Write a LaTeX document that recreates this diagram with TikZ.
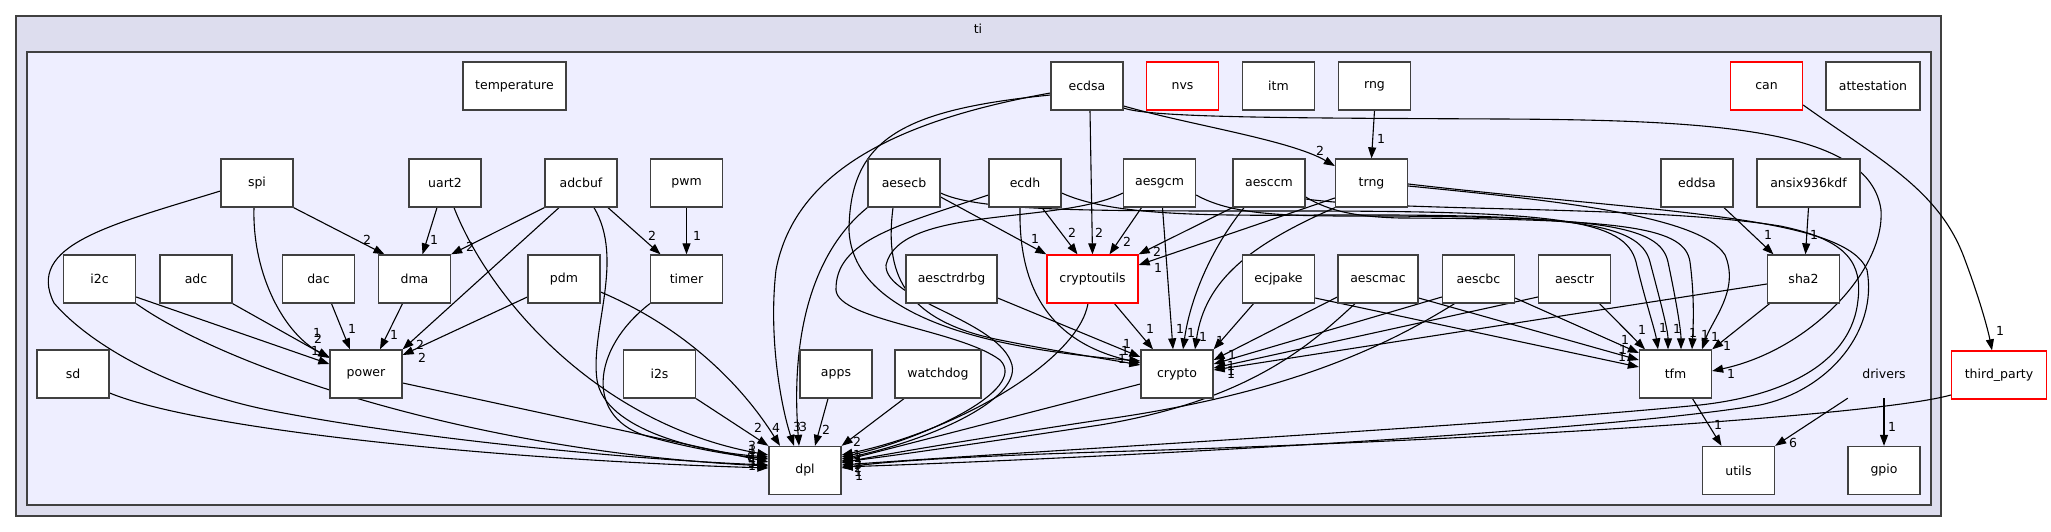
\documentclass[tikz,border=0pt]{standalone}
\usepackage{fontspec}
\newfontfamily\dvs{DejaVu Sans}
\usetikzlibrary{arrows.meta}
\pgfdeclarelayer{bg}
\pgfdeclarelayer{edges}
\pgfsetlayers{bg,edges,main}
\definecolor{outerfill}{HTML}{DDDDEE}
\definecolor{innerfill}{HTML}{EEEEFF}
\definecolor{bordergray}{HTML}{404040}
\tikzset{
  txt/.style={font={\dvs\fontsize{12.5pt}{15pt}\selectfont}},
  box/.style={txt, draw=bordergray, fill=white, line width=1.3pt, minimum width=72pt, minimum height=48pt, inner sep=0pt},
  redbox/.style={box, draw=red},
  e/.style={line width=1.1pt, -{Triangle[length=11pt,width=8pt]}},
  lbl/.style={txt, inner sep=0pt, fill=none},
}
\begin{document}
\begin{tikzpicture}[x=1pt,y=-1pt]
\useasboundingbox (0,0) rectangle (2051,532);
\begin{pgfonlayer}{bg}
\fill[white] (0,0) rectangle (2051,532);
\draw[bordergray, fill=outerfill, line width=1.6pt] (16,16) rectangle (1941,516);
\draw[bordergray, fill=innerfill, line width=1.4pt] (27,52) rectangle (1931,505);
\end{pgfonlayer}
\node[txt] (ti) at (978,29) {ti};
% row 1
\node[box, minimum width=103pt] (temperature) at (514.5,86) {temperature};
\node[box] (ecdsa) at (1087,86) {ecdsa};
\node[redbox] (nvs) at (1182.5,86) {nvs};
\node[box] (itm) at (1278.5,86) {itm};
\node[box] (rng) at (1374.5,86) {rng};
\node[redbox] (can) at (1766.5,86) {can};
\node[box, minimum width=94pt] (attestation) at (1873,86) {attestation};
% row 2
\node[box] (spi) at (257,183) {spi};
\node[box] (uart2) at (445,183) {uart2};
\node[box] (adcbuf) at (581,183) {adcbuf};
\node[box] (pwm) at (686.5,183) {pwm};
\node[box] (aesecb) at (904,183) {aesecb};
\node[box] (ecdh) at (1025,183) {ecdh};
\node[box] (aesgcm) at (1159.5,183) {aesgcm};
\node[box] (aesccm) at (1269,183) {aesccm};
\node[box] (trng) at (1371.5,183) {trng};
\node[box] (eddsa) at (1697,183) {eddsa};
\node[box, minimum width=103pt] (ansix) at (1808.5,183) {ansix936kdf};
% row 3
\node[box] (i2c) at (99.5,279) {i2c};
\node[box] (adc) at (196,279) {adc};
\node[box] (dac) at (318.5,279) {dac};
\node[box] (dma) at (414.5,279) {dma};
\node[box] (pdm) at (564,279) {pdm};
\node[box] (timer) at (686.5,279) {timer};
\node[box, minimum width=91pt] (aesctrdrbg) at (951.5,279) {aesctrdrbg};
\node[redbox, minimum width=91pt] (cryptoutils) at (1092.5,279) {cryptoutils};
\node[box] (ecjpake) at (1278.5,279) {ecjpake};
\node[box, minimum width=80pt] (aescmac) at (1378,279) {aescmac};
\node[box] (aescbc) at (1478.5,279) {aescbc};
\node[box] (aesctr) at (1574.5,279) {aesctr};
\node[box] (sha2) at (1803.5,279) {sha2};
% row 4
\node[box] (sd) at (73,374) {sd};
\node[box] (power) at (366,374) {power};
\node[box] (i2s) at (659.5,374) {i2s};
\node[box] (apps) at (836,374) {apps};
\node[box, minimum width=86pt] (watchdog) at (938,374) {watchdog};
\node[box] (crypto) at (1177,374) {crypto};
\node[box] (tfm) at (1675.5,374) {tfm};
\node[txt, minimum width=72pt, minimum height=48pt, inner sep=0pt] (drivers) at (1884,374) {drivers};
\node[redbox, minimum width=95pt] (thirdparty) at (1999,375) {third\_party};
% row 5
\node[box] (dpl) at (805,470.5) {dpl};
\node[box] (utils) at (1738.5,470.5) {utils};
\node[box] (gpio) at (1884,470.5) {gpio};

\begin{pgfonlayer}{edges}
% ---- left group
\draw[e] (spi.south east) -- ([xshift=-30]dma.north) node[lbl] at (367,240) {2};
\draw[e] ([xshift=-3]spi.south) .. controls (252,275) and (285,335) .. ([yshift=17]power.west) node[lbl] at (318,339) {2};
\draw[e] ([yshift=-8]spi.west) .. controls (110,225) and (25,245) .. (54,303) .. controls (90,345) and (170,390) .. (268,410) .. controls (420,440) and (640,460) .. ([yshift=5.5]dpl.west) node[lbl] at (752,460) {4};
\draw[e] ([xshift=-8]uart2.south) -- ([xshift=8]dma.north) node[lbl] at (434,240) {1};
\draw[e] ([xshift=9]uart2.south) .. controls (490,300) and (600,425) .. ([yshift=15.5]dpl.west) node[lbl] at (752,446) {3};
\draw[e] (adcbuf.south west) -- (dma.north east) node[lbl] at (470,247) {2};
\draw[e] ([xshift=-22]adcbuf.south) -- (power.north east) node[lbl] at (420,345) {2};
\draw[e] ([xshift=13]adcbuf.south) .. controls (625,260) and (590,330) .. (597,380) .. controls (605,430) and (700,452) .. ([yshift=13.5]dpl.west) node[lbl] at (752,450) {1};
\draw[e] ([xshift=27]adcbuf.south) -- ([xshift=-26]timer.north) node[lbl] at (652,236) {2};
\draw[e] (pwm.south) -- (timer.north) node[lbl] at (697,236) {1};
\draw[e] ([yshift=-18]i2c.east) -- ([yshift=10]power.west) node[lbl] at (315,351) {1};
\draw[e] (i2c.south east) .. controls (230,370) and (480,452) .. ([yshift=4.5]dpl.west) node[lbl] at (752,463) {5};
\draw[e] (adc.south east) -- ([yshift=16]power.west) node[lbl] at (317,333) {1};
\draw[e] ([xshift=13]dac.south) -- ([xshift=-16]power.north) node[lbl] at (352,329) {1};
\draw[e] ([xshift=-12]dma.south) -- ([xshift=14]power.north) node[lbl] at (394,335) {1};
\draw[e] ([yshift=-18]pdm.west) -- ([yshift=19]power.east) node[lbl] at (422,358) {2};
\draw[e] ([yshift=-13]pdm.east) .. controls (690,330) and (745,390) .. ([xshift=-25]dpl.north) node[lbl] at (776,428) {4};
\draw[e] (timer.south west) .. controls (590,350) and (585,420) .. (650,437) .. controls (690,448) and (730,455) .. ([yshift=11.5]dpl.west) node[lbl] at (752,454) {2};
\draw[e] ([yshift=-19]sd.east) .. controls (200,430) and (500,460) .. ([yshift=2.5]dpl.west) node[lbl] at (752,466) {1};
\draw[e] ([yshift=-9]power.east) -- ([yshift=8.5]dpl.west) node[lbl] at (751,457) {8};
\draw[e] (i2s.south east) -- (dpl.north west) node[lbl] at (758,428) {2};
\draw[e] ([xshift=-8]apps.south) -- ([xshift=10]dpl.north) node[lbl] at (826,430) {2};
\draw[e] ([xshift=-34]watchdog.south) -- (dpl.north east) node[lbl] at (857,442) {2};
% ---- crypto group
\draw[e] ([yshift=-7]ecdsa.west) .. controls (900,120) and (795,170) .. (776,270) .. controls (768,340) and (782,410) .. ([xshift=-11]dpl.north) node[lbl] at (797,427) {3};
\draw[e] (aesecb.south west) .. controls (815,250) and (790,330) .. ([xshift=-6]dpl.north) node[lbl] at (803,427) {3};
\draw[e] ([yshift=-9]ecdsa.west) .. controls (900,110) and (850,140) .. (849,230) .. controls (852,300) and (940,345) .. ([yshift=13]crypto.west) node[lbl] at (1125,351) {1};
\draw[e] ([xshift=3]ecdsa.south) -- (cryptoutils.north) node[lbl] at (1099,233) {2};
\draw[e] ([yshift=-20]ecdsa.east) .. controls (1190,125) and (1290,140) .. ([yshift=17]trng.west) node[lbl] at (1320,151) {2};
\draw[e] ([yshift=-22]ecdsa.east) .. controls (1150,118) and (1300,118) .. (1500,119) .. controls (1720,120) and (1870,130) .. (1881,210) .. controls (1885,270) and (1810,350) .. ([yshift=3]tfm.east) node[lbl] at (1731,374) {1};
\draw[e] (rng.south) -- (trng.north) node[lbl] at (1381,139) {1};
\draw[e] ([yshift=-14]aesecb.east) -- (cryptoutils.north west) node[lbl] at (1035,239) {1};
\draw[e] ([xshift=-11]aesecb.south) .. controls (885,270) and (900,320) .. (1000,340) .. controls (1060,352) and (1100,358) .. ([yshift=9]crypto.west) node[lbl] at (1122,359) {1};
\draw[e] ([xshift=-5]ecdh.south) .. controls (1018,300) and (1060,345) .. ([yshift=11]crypto.west) node[lbl] at (1127,344) {1};
\draw[e] ([xshift=17]ecdh.south) -- ([xshift=-15]cryptoutils.north) node[lbl] at (1072,233) {2};
\draw[e] ([yshift=-12]ecdh.west) .. controls (900,225) and (835,240) .. (836,290) .. controls (838,320) and (960,330) .. (1000,360) .. controls (1030,390) and (920,440) .. ([yshift=13.5]dpl.east) node[lbl] at (858,458) {2};
\draw[e] ([yshift=-10]aesgcm.west) .. controls (1060,225) and (900,205) .. (886,265) .. controls (884,300) and (1000,320) .. (1012,365) .. controls (1020,400) and (930,440) .. ([yshift=11.5]dpl.east) node[lbl] at (859,462) {1};
\draw[e] ([xshift=-18]aesgcm.south) -- ([xshift=17]cryptoutils.north) node[lbl] at (1127,242) {2};
\draw[e] ([xshift=3]aesgcm.south) -- ([xshift=-4]crypto.north) node[lbl] at (1180,329) {1};
\draw[e] (aesccm.south west) -- (cryptoutils.north east) node[lbl] at (1157,252) {2};
\draw[e] ([xshift=-25]aesccm.south) .. controls (1210,250) and (1190,300) .. ([xshift=6]crypto.north) node[lbl] at (1191,333) {1};
\draw[e] ([yshift=-15]trng.west) -- ([yshift=14]cryptoutils.east) node[lbl] at (1158,268) {1};
\draw[e] (trng.south west) .. controls (1250,245) and (1205,280) .. ([xshift=18]crypto.north) node[lbl] at (1203,337) {1};
% bundle into tfm top
\draw[e] ([yshift=-10]aesecb.east) .. controls (980,212) and (1100,211) .. (1300,211) .. controls (1560,211) and (1625,220) .. (1636,262) .. controls (1645,300) and (1655,330) .. ([xshift=-17.5]tfm.north) node[lbl] at (1663,328) {1};
\draw[e] ([yshift=-10]ecdh.east) .. controls (1110,215) and (1200,216) .. (1320,215) .. controls (1570,214) and (1640,222) .. (1650,262) .. controls (1660,300) and (1668,330) .. ([xshift=-7.5]tfm.north) node[lbl] at (1677,329) {1};
\draw[e] ([yshift=-12]aesgcm.east) .. controls (1230,214) and (1280,216) .. (1350,216) .. controls (1600,216) and (1660,225) .. (1668,262) .. controls (1676,300) and (1681,330) .. ([xshift=5.5]tfm.north) node[lbl] at (1693,333) {1};
\draw[e] ([yshift=-14]aesccm.east) .. controls (1330,212) and (1360,217) .. (1400,218) .. controls (1630,219) and (1685,228) .. (1690,262) .. controls (1695,300) and (1693,330) .. ([xshift=16.5]tfm.north) node[lbl] at (1705,335) {1};
\draw[e] ([yshift=-3]trng.east) .. controls (1550,200) and (1700,215) .. (1725,255) .. controls (1740,290) and (1712,320) .. ([xshift=26.5]tfm.north) node[lbl] at (1715,337) {1};
% far right curves into dpl
\draw[e] ([yshift=-1]trng.east) .. controls (1650,212) and (1845,215) .. (1867,270) .. controls (1878,330) and (1830,390) .. (1760,405) .. controls (1600,432) and (1100,458) .. ([yshift=3.5]dpl.east) node[lbl] at (858,472) {1};
\draw[e] ([yshift=-16]aesccm.east) .. controls (1400,212) and (1650,205) .. (1780,226) .. controls (1850,240) and (1862,265) .. (1858,300) .. controls (1852,360) and (1790,395) .. (1700,405) .. controls (1500,425) and (1050,450) .. ([yshift=5.5]dpl.east) node[lbl] at (858,468) {2};
\draw[e] ([yshift=-20]thirdparty.west) .. controls (1880,415) and (1500,440) .. (1100,452) .. controls (950,457) and (880,462) .. ([yshift=2.5]dpl.east) node[lbl] at (859,476) {1};
\draw[e] ([xshift=22]cryptoutils.south) -- ([xshift=-24]crypto.north) node[lbl] at (1150,329) {1};
\draw[e] ([xshift=-4.5]cryptoutils.south) .. controls (1078,360) and (960,430) .. ([yshift=15.5]dpl.east) node[lbl] at (857,455) {1};
\draw[e] ([yshift=-19]aesctrdrbg.east) -- ([yshift=17]crypto.west);
\draw[e] ([yshift=-10]crypto.west) -- ([yshift=9.5]dpl.east) node[lbl] at (858,465) {3};
\draw[e] ([xshift=-25]ecjpake.south) -- (crypto.north east) node[lbl] at (1220,341) {1};
\draw[e] ([yshift=-19]ecjpake.east) -- ([yshift=7]tfm.west) node[lbl] at (1622,357) {1};
\draw[e] ([yshift=-18]aescmac.west) -- ([yshift=14]crypto.east) node[lbl] at (1232,355) {1};
\draw[e] ([yshift=-19]aescmac.east) -- ([yshift=14]tfm.west) node[lbl] at (1623,350) {1};
\draw[e] ([xshift=-23]aescmac.south) .. controls (1310,345) and (1250,400) .. (1100,425) .. controls (1000,440) and (900,455) .. ([yshift=8.5]dpl.east);
\draw[e] ([yshift=-18]aescbc.west) -- ([yshift=10]crypto.east) node[lbl] at (1231,366) {1};
\draw[e] ([yshift=-19]aescbc.east) -- ([yshift=21]tfm.west) node[lbl] at (1625,340) {1};
\draw[e] ([xshift=-24]aescbc.south) .. controls (1380,350) and (1280,395) .. (1100,420) .. controls (980,438) and (880,455) .. ([yshift=7.5]dpl.east);
\draw[e] ([yshift=-18]aesctr.west) -- ([yshift=6]crypto.east) node[lbl] at (1231,371) {1};
\draw[e] ([xshift=25]aesctr.south) -- ([xshift=-30.5]tfm.north) node[lbl] at (1642,330) {1};
\draw[e] ([yshift=-5]sha2.west) -- ([yshift=4]crypto.east) node[lbl] at (1231,374) {1};
\draw[e] ([xshift=-34]sha2.south) -- (tfm.north east) node[lbl] at (1727,346) {1};
\draw[e] ([xshift=27]eddsa.south) -- ([xshift=-30]sha2.north) node[lbl] at (1768,235) {1};
\draw[e] (ansix.south) -- ([xshift=2]sha2.north) node[lbl] at (1814,235) {1};
\draw[e] ([yshift=-19]can.east) .. controls (1880,160) and (1940,190) .. (1965,260) .. controls (1980,300) and (1988,330) .. ([xshift=-7]thirdparty.north) node[lbl] at (2000,331) {1};
\draw[e] ([xshift=17]tfm.south) -- ([xshift=-17]utils.north) node[lbl] at (1718,425) {1};
\draw[e] (drivers.south west) -- (utils.north east) node[lbl] at (1793,443) {6};
\draw[e] (drivers.south) -- (gpio.north) node[lbl] at (1892,427) {1};
\end{pgfonlayer}
\end{tikzpicture}
\end{document}
